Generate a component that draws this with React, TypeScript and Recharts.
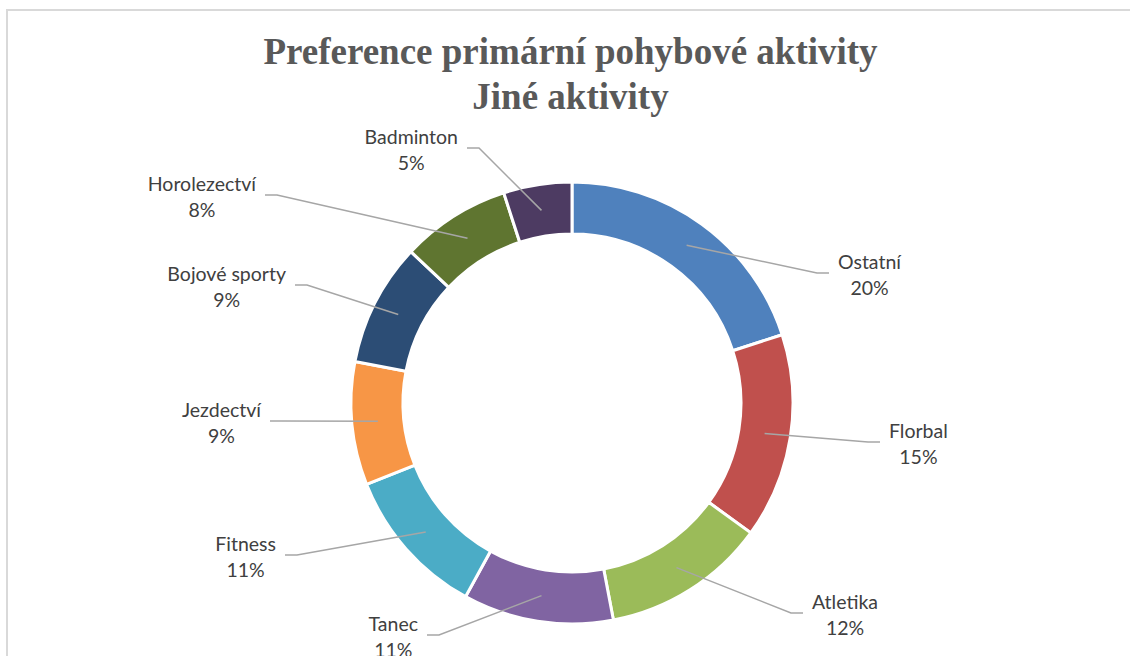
import React from 'react';
import { PieChart, Pie, Cell } from 'recharts';

const CATEGORIES = [
  'Ostatní',
  'Florbal',
  'Atletika',
  'Tanec',
  'Fitness',
  'Jezdectví',
  'Bojové sporty',
  'Horolezectví',
  'Badminton',
];
const SHARES = [20, 15, 12, 11, 11, 9, 9, 8, 5];

const COLORS = [
  '#4F81BD',
  '#C0504D',
  '#9BBB59',
  '#8064A2',
  '#4BACC6',
  '#F79646',
  '#2C4D75',
  '#5F7530',
  '#4D3B62',
];

// where each leader line ends, relative to the pie centre
const LABEL_ENDS: [number, number][] = [
  [257, -130],
  [308, 39],
  [231, 210],
  [-145, 232],
  [-287, 152],
  [-302, 18],
  [-277, -118],
  [-307, -208],
  [-105, -255],
];

const LABEL_FONT = '19.5px Lato';
const RAD = Math.PI / 180;

let canvasCtx: CanvasRenderingContext2D | null = null;
const measure = (s: string) => {
  if (!canvasCtx) canvasCtx = document.createElement('canvas').getContext('2d');
  if (!canvasCtx) return s.length * 9;
  canvasCtx.font = LABEL_FONT;
  return canvasCtx.measureText(s).width;
};

const data = CATEGORIES.map((name, i) => ({ name, value: SHARES[i] }));
const total = SHARES.reduce((a, b) => a + b, 0);

const renderLabel = (props: any) => {
  const { cx, cy, midAngle, innerRadius, outerRadius, index, name, value } = props;
  const r = (innerRadius + outerRadius) / 2;
  const sx = cx + r * Math.cos(-midAngle * RAD);
  const sy = cy + r * Math.sin(-midAngle * RAD);
  const [ex0, ey0] = LABEL_ENDS[index];
  const ex = cx + ex0;
  const ey = cy + ey0;
  const side = ex0 >= 0 ? 1 : -1;
  const elbowX = ex - side * 12;
  const pct = `${Math.round((value / total) * 100)}%`;
  const w = Math.max(measure(name), measure(pct));
  const tx = ex + side * (9 + w / 2);
  return (
    <g key={`lbl-${index}`}>
      <polyline
        points={`${sx},${sy} ${elbowX},${ey} ${ex},${ey}`}
        fill="none"
        stroke="#A6A6A6"
        strokeWidth={1.5}
      />
      <text
        x={tx}
        y={ey - 12}
        textAnchor="middle"
        dominantBaseline="central"
        fill="#404040"
        style={{ font: LABEL_FONT }}
      >
        {name}
      </text>
      <text
        x={tx}
        y={ey + 14}
        textAnchor="middle"
        dominantBaseline="central"
        fill="#404040"
        style={{ font: LABEL_FONT }}
      >
        {pct}
      </text>
    </g>
  );
};

export default function App() {
  return (
    <div style={{ position: 'absolute', left: 0, top: 0, width: 1130, height: 656, overflow: 'hidden', background: '#fff' }}>
      <div
        style={{
          position: 'absolute',
          left: 6,
          top: 9,
          width: 1200,
          height: 800,
          borderTop: '2px solid #D9D9D9',
          borderLeft: '2px solid #D9D9D9',
        }}
      />
      <div
        style={{
          position: 'absolute',
          left: 0,
          top: 29,
          width: 1141,
          textAlign: 'center',
          fontFamily: '"Liberation Serif", serif',
          fontWeight: 'bold',
          fontSize: 37,
          lineHeight: '45px',
          color: '#595959',
        }}
      >
        Preference primární pohybové aktivity
        <br />
        Jiné aktivity
      </div>
      <div style={{ position: 'absolute', left: 0, top: 0 }}>
        <PieChart width={1130} height={656} margin={{ top: 0, right: 0, bottom: 0, left: 0 }}>
          <Pie
            data={data}
            dataKey="value"
            nameKey="name"
            cx={572}
            cy={403}
            innerRadius={169}
            outerRadius={221}
            startAngle={90}
            endAngle={-270}
            stroke="#FFFFFF"
            strokeWidth={3}
            label={renderLabel}
            labelLine={false}
            isAnimationActive={false}
          >
            {data.map((d, i) => (
              <Cell key={d.name} fill={COLORS[i]} />
            ))}
          </Pie>
        </PieChart>
      </div>
    </div>
  );
}
